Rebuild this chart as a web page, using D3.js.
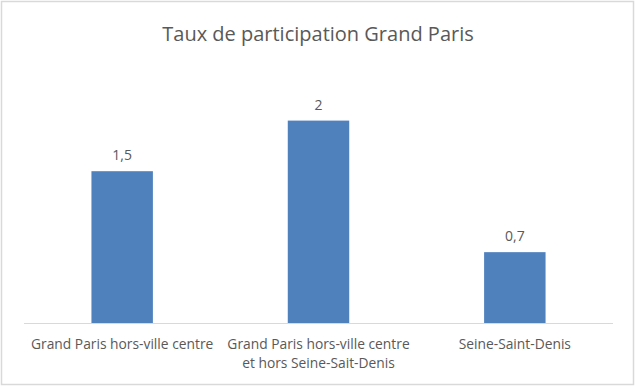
<!DOCTYPE html>
<html>
<head>
<meta charset="utf-8">
<script src="https://cdn.jsdelivr.net/npm/d3@7"></script>
<style>
  body { margin: 0; background: #fff; }
  text { font-family: "Open Sans", "Liberation Sans", sans-serif; fill: #595959; }
</style>
</head>
<body>
<svg id="chart" width="636" height="388"></svg>
<script>
var categories = [
    ["Grand Paris hors-ville centre"],
    ["Grand Paris hors-ville centre", "et hors Seine-Sait-Denis"],
    ["Seine-Saint-Denis"]
];
var values = [1.5, 2, 0.7];
var valueLabels = ["1,5", "2", "0,7"];
var title = "Taux de participation Grand Paris";

var svg = d3.select("#chart");

svg.append("rect")
    .attr("x", 1.5).attr("y", 1.5)
    .attr("width", 632).attr("height", 383)
    .attr("fill", "#fff")
    .attr("stroke", "#d9d9d9")
    .attr("stroke-width", 1.5);

var x = d3.scaleBand()
    .domain(d3.range(values.length))
    .range([24, 613])
    .padding(0);

var y = d3.scaleLinear()
    .domain([0, 2.5])
    .range([323, 70]);

var barW = x.bandwidth() * 0.313;

svg.append("text")
    .attr("x", 318)
    .attr("y", 41)
    .attr("text-anchor", "middle")
    .style("font-size", "20px")
    .text(title);

svg.selectAll(".bar")
    .data(values)
    .enter().append("rect")
    .attr("class", "bar")
    .attr("x", function(d, i) { return x(i) + x.bandwidth() / 2 - barW / 2; })
    .attr("y", function(d) { return y(d); })
    .attr("width", barW)
    .attr("height", function(d) { return y(0) - y(d); })
    .attr("fill", "#4f81bd");

svg.append("line")
    .attr("x1", 24).attr("x2", 613)
    .attr("y1", y(0) + 0.5).attr("y2", y(0) + 0.5)
    .attr("stroke", "#d9d9d9")
    .attr("stroke-width", 1);

svg.selectAll(".val")
    .data(values)
    .enter().append("text")
    .attr("class", "val")
    .attr("x", function(d, i) { return x(i) + x.bandwidth() / 2; })
    .attr("y", function(d) { return y(d) - 11; })
    .attr("text-anchor", "middle")
    .style("font-size", "14px")
    .text(function(d, i) { return valueLabels[i]; });

var cat = svg.selectAll(".cat")
    .data(categories)
    .enter().append("text")
    .attr("class", "cat")
    .attr("x", function(d, i) { return x(i) + x.bandwidth() / 2; })
    .attr("y", 349)
    .attr("text-anchor", "middle")
    .style("font-size", "13.8px");

cat.selectAll("tspan")
    .data(function(d) { return d; })
    .enter().append("tspan")
    .attr("x", function() { return d3.select(this.parentNode).attr("x"); })
    .attr("dy", function(d, i) { return i === 0 ? 0 : 19; })
    .text(function(d) { return d; });
</script>
</body>
</html>
